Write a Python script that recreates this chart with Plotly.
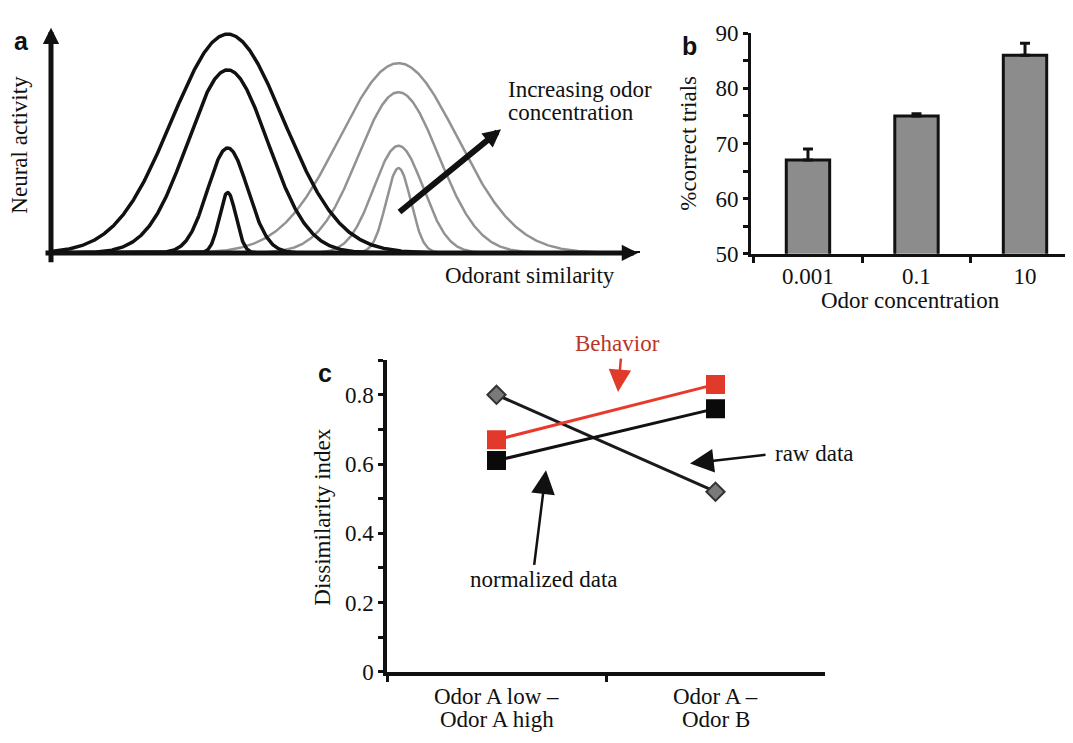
import numpy as np
import plotly.graph_objects as go

W, H = 1073, 743
OFF = 8  # page body margin: the figure is drawn 8 px right and down of the window corner
SERIF = "Liberation Serif"
SANS = "Liberation Sans"
FS = 23

# ---------------- Panel a: schematic tuning curves (read-off parameters) ----------------
black_center = 30.0
black_peaks = [0.98, 0.82, 0.47, 0.27]
black_widths = [9.5, 6.8, 3.4, 1.4]
gray_center = 59.0
gray_peaks = [0.85, 0.72, 0.48, 0.38]
gray_widths = [10.0, 6.8, 4.2, 2.1]

# ---------------- Panel b: behaviour vs concentration ----------------
conc_labels = ["0.001", "0.1", "10"]
pct_correct = [67, 75, 86]
pct_err = [2.0, 0.4, 2.2]

# ---------------- Panel c: dissimilarity index ----------------
comparisons = ["Odor A low –<br>Odor A high", "Odor A –<br>Odor B"]
behavior = [0.67, 0.83]
normalized = [0.61, 0.76]
raw = [0.80, 0.52]


def px(x):
    return (x - OFF) / W


def py(y):
    return 1 - (y - OFF) / H


fig = go.Figure()

sim_grid = np.linspace(0, 100, 1001)
for amp, wd in zip(gray_peaks, gray_widths):
    fig.add_trace(go.Scatter(x=sim_grid, y=amp * np.exp(-(sim_grid - gray_center) ** 2 / (2 * wd ** 2)),
                             mode="lines", line=dict(color="#929292", width=2.5),
                             xaxis="x", yaxis="y", hoverinfo="skip"))
for amp, wd in zip(black_peaks, black_widths):
    fig.add_trace(go.Scatter(x=sim_grid, y=amp * np.exp(-(sim_grid - black_center) ** 2 / (2 * wd ** 2)),
                             mode="lines", line=dict(color="#111111", width=3.5),
                             xaxis="x", yaxis="y", hoverinfo="skip"))

fig.add_trace(go.Bar(x=conc_labels, y=pct_correct, width=0.4,
                     marker=dict(color="#8c8c8c", line=dict(color="#111111", width=3)),
                     error_y=dict(type="data", symmetric=False, array=pct_err, arrayminus=[0, 0, 0],
                                  color="#111111", thickness=3, width=5),
                     xaxis="x2", yaxis="y2"))

fig.add_trace(go.Scatter(x=comparisons, y=raw, mode="lines+markers",
                         line=dict(color="#1a1a1a", width=3),
                         marker=dict(symbol="diamond", size=14, color="#7a7a7a",
                                     line=dict(color="#333333", width=2)),
                         xaxis="x3", yaxis="y3"))
fig.add_trace(go.Scatter(x=comparisons, y=normalized, mode="lines+markers",
                         line=dict(color="#111111", width=3),
                         marker=dict(symbol="square", size=19, color="#0a0a0a"),
                         xaxis="x3", yaxis="y3"))
fig.add_trace(go.Scatter(x=comparisons, y=behavior, mode="lines+markers",
                         line=dict(color="#e8392b", width=3),
                         marker=dict(symbol="square", size=19, color="#e23a2a"),
                         xaxis="x3", yaxis="y3"))

tickfont = dict(family=SERIF, size=FS, color="#111111")

fig.update_layout(
    width=W, height=H, margin=dict(l=0, r=0, t=0, b=0),
    paper_bgcolor="white", plot_bgcolor="white", showlegend=False,
    xaxis=dict(domain=[px(51), px(640)], range=[0, 100], visible=False),
    yaxis=dict(domain=[py(249), py(18)], range=[0, 1], visible=False),
    xaxis2=dict(domain=[px(751), 1], type="category", range=[-0.525, 2.516],
                showline=True, linecolor="#111111", linewidth=3,
                ticks="outside", tickson="boundaries", ticklen=6, tickwidth=3, tickcolor="#111111",
                tickfont=tickfont, showgrid=False, zeroline=False, anchor="y2", fixedrange=True),
    yaxis2=dict(domain=[py(250), py(21.7)], range=[50, 90], tickvals=[50, 60, 70, 80, 90],
                showline=True, linecolor="#111111", linewidth=3,
                ticks="outside", ticklen=5, tickwidth=3, tickcolor="#111111",
                minor=dict(dtick=5, ticks="outside", ticklen=5, tickwidth=3, tickcolor="#111111"),
                tickfont=tickfont, showgrid=False, zeroline=False, anchor="x2"),
    xaxis3=dict(domain=[px(387), px(825)], type="category", range=[-0.5, 1.5],
                showline=True, linecolor="#111111", linewidth=3.5,
                ticks="outside", tickson="boundaries", ticklen=6, tickwidth=3, tickcolor="#111111",
                showticklabels=False, showgrid=False, zeroline=False, anchor="y3"),
    yaxis3=dict(domain=[py(682.5), py(360)], range=[0, 0.9],
                tickvals=[0, 0.2, 0.4, 0.6, 0.8], ticktext=["0", "0.2", "0.4", "0.6", "0.8"],
                showline=True, linecolor="#111111", linewidth=3.5,
                ticks="outside", ticklen=5, tickwidth=3, tickcolor="#111111",
                minor=dict(tickvals=[0.1, 0.3, 0.5, 0.7, 0.9], ticks="outside", ticklen=5,
                           tickwidth=3, tickcolor="#111111"),
                tickfont=tickfont, showgrid=False, zeroline=False, anchor="x3"),
)

ann = []


def text(t, x, y, size=FS, color="#111111", family=SERIF, xanchor="center", angle=0, bold=False):
    ann.append(dict(text=("<b>%s</b>" % t) if bold else t, x=px(x), y=py(y), xref="paper", yref="paper",
                    showarrow=False, xanchor=xanchor, yanchor="middle", textangle=angle,
                    font=dict(family=family, size=size, color=color)))


def arrow(tip, tail, width, size, color="#111111", head=2):
    ann.append(dict(text="", x=px(tip[0]), y=py(tip[1]), xref="paper", yref="paper",
                    showarrow=True, ax=tail[0] - tip[0], ay=tail[1] - tip[1], axref="pixel", ayref="pixel",
                    arrowhead=head, arrowwidth=width, arrowsize=size, arrowcolor=color, standoff=0))


# panel labels
text("a", 21, 30, size=25, family=SANS, bold=True)
text("b", 689, 35, size=25, family=SANS, bold=True)
text("c", 325, 373, size=25, family=SANS, bold=True)

# panel a
arrow((51, 16), (51, 252), 5, 0.65)
arrow((638, 249), (44, 249), 5, 0.65)
arrow((501, 121), (398, 205), 6, 0.6)
text("Neural activity", 20, 137, angle=-90)
text("Odorant similarity", 530, 272)
text("Increasing odor", 506, 80, xanchor="left")
text("concentration", 506, 104, xanchor="left")

# panel b
text("%correct trials", 689, 136, angle=-90)
text("Odor concentration", 910, 298)

# panel c category labels (two lines each, placed on the category axis)
for cat in comparisons:
    for i, line in enumerate(cat.split("<br>")):
        ann.append(dict(text=line, x=cat, xref="x3", y=py(708 + 24 * i), yref="paper",
                        showarrow=False, xanchor="center", yanchor="middle",
                        font=dict(family=SERIF, size=FS, color="#111111")))

text("Dissimilarity index", 323, 523, angle=-90)
text("Behavior", 617, 343, color="#b8352b")
arrow((618, 393), (621, 358), 2.5, 1.8, color="#e23a2a")
text("raw data", 773, 457, xanchor="left")
arrow((690, 467), (767, 458), 2.5, 1.9)
text("normalized data", 544, 587)
arrow((546, 474), (534, 570), 2.5, 1.9)

fig.update_layout(annotations=ann)
fig.write_html("out.html")
